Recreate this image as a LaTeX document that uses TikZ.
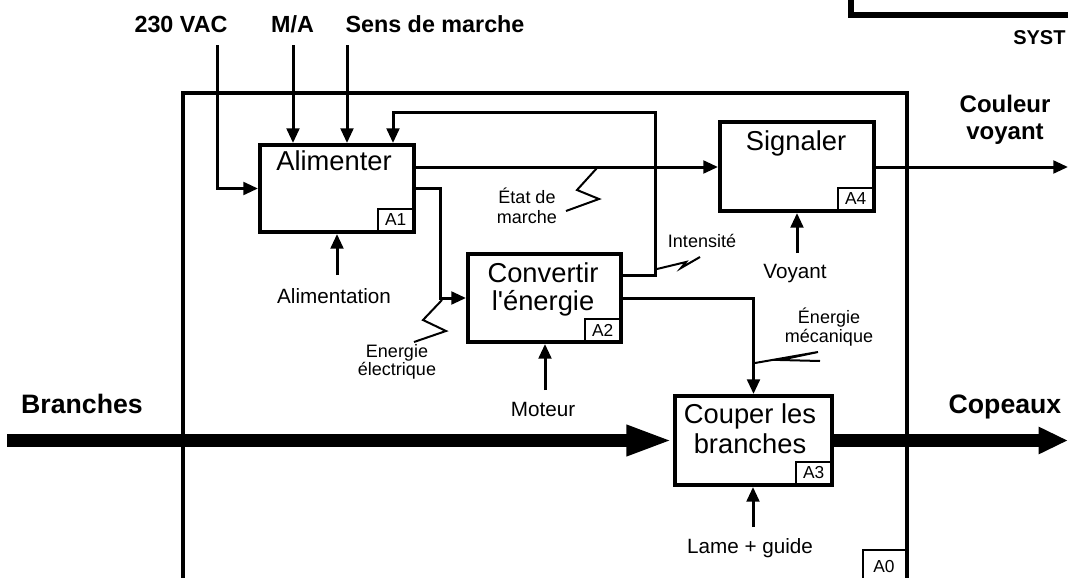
\documentclass[tikz,border=0pt]{standalone}
\usepackage{fontspec}
\setmainfont{Liberation Sans}
\usetikzlibrary{arrows.meta}
\begin{document}
\begin{tikzpicture}[x=0.75pt,y=-0.75pt,
  fnbox/.style={draw, line width=3pt, inner sep=0pt},
  idbox/.style={draw, line width=1.5pt, minimum width=26pt, minimum height=16.5pt, inner sep=0pt, anchor=south east, font=\fontsize{13}{13}\selectfont},
  boxtitle/.style={anchor=base, inner sep=0pt, font=\fontsize{20.5}{22}\selectfont},
  extlabel/.style={anchor=base, inner sep=0pt, font=\bfseries\fontsize{17.5}{20}\selectfont},
  biglabel/.style={anchor=base, inner sep=0pt, font=\bfseries\fontsize{20}{22}\selectfont},
  ctllabel/.style={anchor=base, inner sep=0pt, font=\fontsize{15.5}{17}\selectfont},
  sqlabel/.style={anchor=base, inner sep=0pt, font=\fontsize{13.5}{15}\selectfont},
  arr/.style={line width=2.25pt, -{Triangle[length=11pt,width=9.5pt]}},
  bigarr/.style={line width=9.75pt},
  squig/.style={line width=1.5pt},
  frame/.style={line width=3pt}
]
\useasboundingbox (0,0) rectangle (1068,578);

% top-right frame fragment
\draw[line width=4.5pt] (851,-10) -- (851,14.5) -- (1080,14.5);
\node[anchor=base west, inner sep=0pt, font=\bfseries\fontsize{15}{16}\selectfont] (syst) at (1013,44) {SYST};

% A0 frame
\draw[frame] (183,590) -- (183,93) -- (907,93) -- (907,590);
\node[draw, line width=1.5pt, minimum width=33pt, minimum height=24pt, inner sep=0pt, anchor=north west] (a0) at (862,549) {};
\node[anchor=base, inner sep=0pt, font=\fontsize{13}{13}\selectfont] (a0t) at (884,572) {A0};

% function boxes
\node[fnbox, minimum width=115.5pt, minimum height=65.25pt] (A1) at (337,188.5) {};
\node[fnbox, minimum width=114.75pt, minimum height=66pt] (A2) at (544.5,298) {};
\node[fnbox, minimum width=117.75pt, minimum height=66.75pt] (A3) at (753.5,440.5) {};
\node[fnbox, minimum width=115.5pt, minimum height=66.75pt] (A4) at (797,166.5) {};

\node[idbox] (A1id) at ([xshift=-1.5pt,yshift=1.5pt]A1.south east) {A1};
\node[idbox] (A2id) at ([xshift=-1.5pt,yshift=1.5pt]A2.south east) {A2};
\node[idbox] (A3id) at ([xshift=-1.5pt,yshift=1.5pt]A3.south east) {A3};
\node[idbox] (A4id) at ([xshift=-1.5pt,yshift=1.5pt]A4.south east) {A4};

\node[boxtitle] (t1) at (334,170) {Alimenter};
\node[boxtitle] (t2a) at (543,282) {Convertir};
\node[boxtitle] (t2b) at (543,310) {l\textquotesingle énergie};
\node[boxtitle] (t3a) at (750,423) {Couper les};
\node[boxtitle] (t3b) at (750,453) {branches};
\node[boxtitle] (t4) at (796,150) {Signaler};

% external labels
\node[extlabel] (l230) at (181,32) {230 VAC};
\node[extlabel] (lma) at (292.5,32) {M/A};
\node[extlabel] (lsens) at (435,32) {Sens de marche};
\node[biglabel] (lbr) at (82,413) {Branches};
\node[biglabel] (lcop) at (1005,413) {Copeaux};
\node[anchor=base, inner sep=0pt, font=\bfseries\fontsize{18}{20}\selectfont] (lcoul) at (1005,112) {Couleur};
\node[anchor=base, inner sep=0pt, font=\bfseries\fontsize{18}{20}\selectfont] (lvoy) at (1005,139) {voyant};

\node[ctllabel] (lalim) at (334,303) {Alimentation};
\node[ctllabel] (lvoyant) at (795,278) {Voyant};
\node[ctllabel] (lmot) at (543,416) {Moteur};
\node[ctllabel] (llame) at (750,553) {Lame + guide};

\node[sqlabel] (le1) at (527,203) {État de};
\node[sqlabel] (le2) at (527,223) {marche};
\node[sqlabel] (lint) at (702,247) {Intensité};
\node[sqlabel] (lee1) at (397,357) {Energie};
\node[sqlabel] (lee2) at (397,375) {électrique};
\node[sqlabel] (lem1) at (829,323) {Énergie};
\node[sqlabel] (lem2) at (829,342) {mécanique};

% coordinates for free ends
\coordinate (in230) at (217,45);
\coordinate (inma) at (293,45);
\coordinate (insens) at (347,45);
\coordinate (calim) at (337,275);
\coordinate (cmot) at (545,390);
\coordinate (cvoy) at (797,253);
\coordinate (clame) at (753,527);
\coordinate (brin) at (7,440.5);
\coordinate (copout) at (1068,440.5);
\coordinate (coulout) at (1068,167);
\coordinate (fb) at (655,112);

% inputs / controls / mechanisms
\draw[arr] (in230) |- (A1.west);
\draw[arr] (inma) -- (inma |- A1.north);
\draw[arr] (insens) -- (insens |- A1.north);
\draw[arr] (calim) -- (A1.south);
\draw[arr] (cmot) -- (cmot |- A2.south);
\draw[arr] (cvoy) -- (A4.south);
\draw[arr] (clame) -- (clame |- A3.south);

% internal flows
\draw[arr] (A1.east |- 0,167) -- (A4.west |- 0,167);
\draw[arr] (A1.east) -| (440,0 |- A2.west) -- (A2.west);
\draw[arr] (A2.east |- 0,275) -| (fb) -| (393,0 |- A1.north);
\draw[arr] (A2.east) -| (A3.north);
\draw[arr] (A4.east |- 0,167) -- (coulout);

% thick flows
\draw[bigarr, -{Triangle[length=35pt,width=21pt]}] (brin) -- (A3.west);
\draw[bigarr, -{Triangle[length=22pt,width=19pt]}] (A3.east) -- (copout);

% squiggles
\draw[squig] (597,168) -- (577,190) -- (599,199) -- (566,211);
\draw[squig] (657,269) -- (686,262) -- (681,268) -- (700,257);
\draw[squig] (442,300) -- (423,320) -- (446,331) -- (414,342);
\draw[squig] (755,363) -- (818,352) -- (780,360) -- (820,361);
\end{tikzpicture}
\end{document}
